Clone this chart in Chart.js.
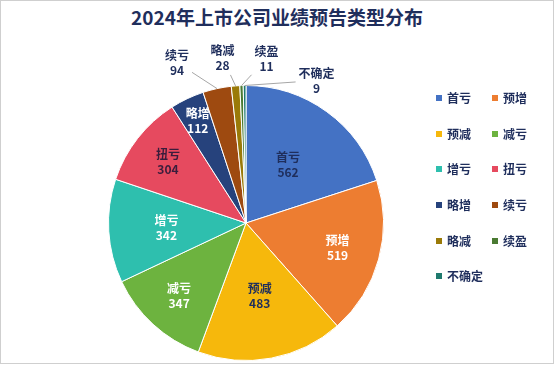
<!DOCTYPE html>
<html>
<head>
<meta charset="utf-8">
<script src="https://cdn.jsdelivr.net/npm/chart.js@4"></script>
<style>
  html, body { margin: 0; padding: 0; background: #fff; }
  body { width: 554px; height: 365px; position: relative; overflow: hidden;
         font-family: "Noto Sans CJK SC", "Noto Sans", sans-serif; }
  #frame { position: absolute; left: 0; top: 0; width: 552px; height: 362px;
           border: 1px solid #cfcfcf; }
  #title { position: absolute; left: 0; width: 554px; top: 4px; margin: 0;
           text-align: center; font-size: 19px; font-weight: bold; color: #1f2e5c;
           line-height: 26px; }
  #pie { position: absolute; left: 0; top: 0; }
  #legend { position: absolute; left: 436px; top: 90px; display: grid;
            grid-template-columns: 56px 56px; grid-auto-rows: 35.7px; }
  .item { display: flex; align-items: flex-start; font-size: 12px; font-weight: bold;
          color: #1f2e5c; line-height: 16px; white-space: nowrap; }
  .sw { width: 6px; height: 6px; margin: 5px 5px 0 0; flex: none; }
</style>
</head>
<body>
<div id="frame"></div>
<h1 id="title">2024年上市公司业绩预告类型分布</h1>
<canvas id="pie" width="554" height="365"></canvas>
<div id="legend"></div>
<script>
"use strict";

const CATEGORIES = ["首亏", "预增", "预减", "减亏", "增亏", "扭亏", "略增", "续亏", "略减", "续盈", "不确定"];
const COUNTS = [562, 519, 483, 347, 342, 304, 112, 94, 28, 11, 9];

const SLICE_COLORS = ["#4472c4", "#ed7d31", "#f6b80c", "#6db33f", "#2ebfae", "#e64a5f",
                      "#26427c", "#9e4a10", "#9a7a08", "#4a7a32", "#1f7a6e"];
const LABEL_COLORS = ["#1f2e5c", "#ffffff", "#1f2e5c", "#ffffff", "#ffffff", "#3a1d3c",
                      "#ffffff", "#1f2e5c", "#1f2e5c", "#1f2e5c", "#1f2e5c"];
// inside labels: distance from centre as a share of the radius
const LABEL_RADIUS = [0.52, 0.69, 0.54, 0.72, 0.58, 0.72, 0.82];

// where the small slices put their labels, relative to the slice's outer edge
const OUTSIDE = {
  7: { dx: -40, dy: -26 },
  8: { dx: -13, dy: -28 },
  9: { dx: 25, dy: -27 },
  10: { dx: 72, dy: -5 },
};

const labelPlugin = {
  id: "sliceLabels",
  afterDatasetsDraw(chart) {
    const ctx = chart.ctx;
    const meta = chart.getDatasetMeta(0);
    ctx.save();
    ctx.font = "bold 12px 'Noto Sans CJK SC', sans-serif";
    ctx.textAlign = "center";
    ctx.textBaseline = "middle";
    meta.data.forEach((arc, i) => {
      const p = arc.getProps(["x", "y", "startAngle", "endAngle", "outerRadius"], true);
      const mid = (p.startAngle + p.endAngle) / 2;
      const lines = [CATEGORIES[i], String(COUNTS[i])];
      let cx, cy;
      if (OUTSIDE[i]) {
        const ex = p.x + Math.cos(mid) * p.outerRadius;
        const ey = p.y + Math.sin(mid) * p.outerRadius;
        cx = ex + OUTSIDE[i].dx;
        cy = ey + OUTSIDE[i].dy;
        // leader line stops at the label box
        const hw = Math.max(...lines.map((t) => ctx.measureText(t).width)) / 2 + 3;
        const hh = 17;
        const vx = ex - cx, vy = ey - cy;
        const t = Math.min(hw / Math.abs(vx || 1e-6), hh / Math.abs(vy || 1e-6));
        ctx.strokeStyle = "#a6a6a6";
        ctx.lineWidth = 1;
        ctx.beginPath();
        ctx.moveTo(ex, ey);
        ctx.lineTo(cx + vx * t, cy + vy * t);
        ctx.stroke();
      } else {
        const r = p.outerRadius * (LABEL_RADIUS[i] || 0.66);
        cx = p.x + Math.cos(mid) * r;
        cy = p.y + Math.sin(mid) * r;
      }
      ctx.fillStyle = LABEL_COLORS[i];
      ctx.fillText(lines[0], cx, cy - 7.5);
      ctx.fillText(lines[1], cx, cy + 7.5);
    });
    ctx.restore();
  },
};

new Chart(document.getElementById("pie"), {
  type: "pie",
  data: {
    labels: CATEGORIES,
    datasets: [{
      data: COUNTS,
      backgroundColor: SLICE_COLORS,
      borderColor: "#ffffff",
      borderWidth: 1,
    }],
  },
  options: {
    responsive: false,
    animation: false,
    layout: { padding: { left: 108, right: 170, top: 85, bottom: 4 } },
    plugins: { legend: { display: false }, tooltip: { enabled: false } },
  },
  plugins: [labelPlugin],
});

const legend = document.getElementById("legend");
CATEGORIES.forEach((name, i) => {
  const el = document.createElement("div");
  el.className = "item";
  el.innerHTML = `<span class="sw" style="background:${SLICE_COLORS[i]}"></span>${name}`;
  legend.appendChild(el);
});
</script>
</body>
</html>
